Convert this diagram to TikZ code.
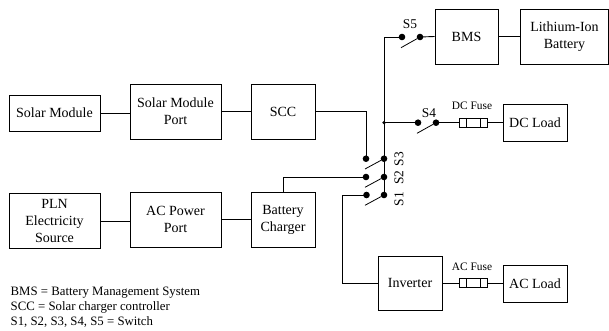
\documentclass[tikz,border=0pt]{standalone}
\usepackage{fontspec}
\setmainfont{Liberation Serif}
\tikzset{
  box/.style={draw,line width=0.9pt,inner sep=0pt,align=center,font=\fontsize{14}{17}\selectfont},
  wire/.style={line width=0.9pt},
  blade/.style={line width=0.8pt},
  contact/.style={circle,fill=black,inner sep=0pt,minimum size=6.6pt},
  junction/.style={circle,fill=black,inner sep=0pt,minimum size=3.6pt},
  swlabel/.style={font=\fontsize{13.4}{15}\selectfont,inner sep=0pt},
  fuselabel/.style={font=\fontsize{11.4}{13}\selectfont,inner sep=0pt},
  fuse/.style={draw,line width=0.7pt,inner sep=0pt,minimum width=28pt,minimum height=9pt},
  legend/.style={font=\fontsize{12.8}{15}\selectfont,inner sep=0pt,align=left,anchor=north west}
}
\begin{document}
\begin{tikzpicture}[x=1pt,y=-1pt]
\useasboundingbox (0,0) rectangle (609,331);
% boxes
\node[box,minimum width=91pt,minimum height=36pt] (solar) at (54.5,113) {Solar Module};
\node[box,minimum width=91pt,minimum height=55pt] (sport) at (175.5,111.5) {Solar Module\\Port};
\node[box,minimum width=64pt,minimum height=55pt] (scc) at (283,111.5) {SCC};
\node[box,minimum width=91pt,minimum height=54.5pt] (pln) at (54.5,221) {PLN\\Electricity\\Source};
\node[box,minimum width=91pt,minimum height=55pt] (acport) at (175.5,219.5) {AC Power\\Port};
\node[box,minimum width=64pt,minimum height=55pt] (charger) at (283,219.5) {Battery\\Charger};
\node[box,minimum width=63pt,minimum height=55pt] (bms) at (466.5,36.5) {BMS};
\node[box,minimum width=87.5pt,minimum height=55pt] (li) at (564.5,36.5) {Lithium-Ion\\Battery};
\node[box,minimum width=64pt,minimum height=37pt] (dcload) at (535,122.5) {DC Load};
\node[box,minimum width=64pt,minimum height=54pt] (inv) at (410,283) {Inverter};
\node[box,minimum width=64pt,minimum height=37pt] (acload) at (535,283.5) {AC Load};
% switch contacts
\node[contact] (s5l) at (402,37) {};
\node[contact] (s5r) at (420,37) {};
\node[contact] (s4l) at (418,122.7) {};
\node[contact] (s4r) at (436,122.7) {};
\node[contact] (s3l) at (366,158.7) {};
\node[contact] (s3r) at (384,158.7) {};
\node[contact] (s2l) at (366,177) {};
\node[contact] (s2r) at (384,177) {};
\node[contact] (s1l) at (366.5,195) {};
\node[contact] (s1r) at (384,195) {};
\node[junction] (j) at (384,122.7) {};
\coordinate (s5c) at (384,37);
\coordinate (s5f) at (401,47.7);
\coordinate (s4f) at (417,133.3);
\coordinate (s3f) at (365,169);
\coordinate (s2f) at (365,187.3);
\coordinate (s1f) at (365,205.3);
\coordinate (bend) at (342,195);
\coordinate (bend2) at (342,283);
% fuses
\node[fuse] (dcfuse) at (473,122.7) {};
\node[fuse] (acfuse) at (473,283) {};
\draw[line width=0.7pt] ([xshift=-7pt]dcfuse.north) -- ([xshift=-7pt]dcfuse.south);
\draw[line width=0.7pt] ([xshift=7pt]dcfuse.north) -- ([xshift=7pt]dcfuse.south);
\draw[line width=0.7pt] ([xshift=-7pt]acfuse.north) -- ([xshift=-7pt]acfuse.south);
\draw[line width=0.7pt] ([xshift=7pt]acfuse.north) -- ([xshift=7pt]acfuse.south);
% wires
\draw[wire] (solar.east) -- (solar.east -| sport.west);
\draw[wire] (sport.east) -- (scc.west);
\draw[wire] (pln.east) -- (pln.east -| acport.west);
\draw[wire] (acport.east) -- (charger.west);
\draw[wire] (scc.east) -| (s3l.center);
\draw[wire] (charger.north) |- (s2l.center);
\draw[wire] (s1l.center) -- (bend) -- (bend2) -- (inv.west);
\draw[wire] (s5l.center) -- (s5c) -- (s1r.center);
\draw[wire] (s5r.center) -- (bms.west);
\draw[wire] (bms.east) -- (li.west);
\draw[wire] (j.center) -- (s4l.center);
\draw[wire] (s4r.center) -- (dcfuse.west);
\draw[wire] (dcfuse.east) -- (dcfuse.east -| dcload.west);
\draw[wire] (inv.east) -- (acfuse.west);
\draw[wire] (acfuse.east) -- (acfuse.east -| acload.west);
% blades
\draw[blade] (s5f) -- (s5r);
\draw[blade] (s4f) -- (s4r);
\draw[blade] (s3f) -- (s3r);
\draw[blade] (s2f) -- (s2r);
\draw[blade] (s1f) -- (s1r);
% labels
\node[swlabel] (l5) at (410,24) {S5};
\node[swlabel] (l4) at (429,113) {S4};
\node[swlabel,rotate=90] (l3) at (399,159) {S3};
\node[swlabel,rotate=90] (l2) at (399,177.5) {S2};
\node[swlabel,rotate=90] (l1) at (399,199) {S1};
\node[fuselabel] (ldc) at (472,106) {DC Fuse};
\node[fuselabel] (lac) at (472,267) {AC Fuse};
\node[legend] (leg) at (10.5,287) {BMS = Battery Management System\\SCC = Solar charger controller\\S1, S2, S3, S4, S5 = Switch};
\end{tikzpicture}
\end{document}
